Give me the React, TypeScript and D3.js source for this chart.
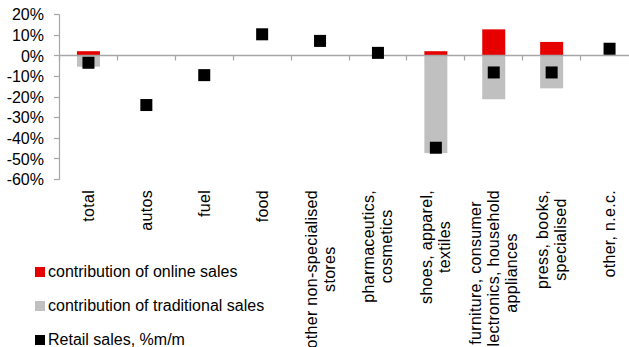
import React from 'react';
import * as d3 from 'd3';

const categories = [
  'total', 'autos', 'fuel', 'food', 'other non-specialised stores',
  'pharmaceutics, cosmetics', 'shoes, apparel, textiles',
  'furniture, consumer electronics, household appliances',
  'press, books, specialised', 'other, n.e.c.',
];
const labelLines = [
  ['total'], ['autos'], ['fuel'], ['food'],
  ['other non-specialised', 'stores'],
  ['pharmaceutics,', 'cosmetics'],
  ['shoes, apparel,', 'textiles'],
  ['furniture, consumer', 'electronics, household', 'appliances'],
  ['press, books,', 'specialised'],
  ['other, n.e.c.'],
];
const onlineSales: (number | null)[] = [2.2, null, null, null, null, null, 2.2, 12.8, 6.7, null];
const traditionalSales: (number | null)[] = [-5.3, null, null, null, null, null, -47.2, -21.1, -15.8, null];
const retailSales = [-3.4, -23.9, -9.4, 10.4, 7.2, 1.4, -44.6, -8.1, -8.1, 3.4];
const yTicks = [20, 10, 0, -10, -20, -30, -40, -50, -60];
const legendLabels = ['contribution of online sales', 'contribution of traditional sales', 'Retail sales, %m/m'];

const W = 629;
const H = 347;
const FONT = '"Liberation Sans", Arial, Helvetica, sans-serif';
const RED = '#e60000';
const GREY = '#c0c0c0';
const AXIS = '#a6a6a6';
const LS = 0.3;

let ctx: CanvasRenderingContext2D | null = null;
function measure(t: string, size: number) {
  if (!ctx) ctx = document.createElement('canvas').getContext('2d');
  if (!ctx) return t.length * size * 0.5;
  ctx.font = `${size}px ${FONT}`;
  return ctx.measureText(t).width + LS * t.length;
}

export default function App() {
  const x = d3.scaleBand<string>().domain(categories).range([59.5, 638.5]).padding(0);
  const y = d3.scaleLinear().domain([-60, 20]).range([179.5, 14.5]);
  const bw = 23;
  const crisp = (v: number) => Math.floor(v) + 0.5;
  const y0 = crisp(y(0));
  const cx = (i: number) => (x(categories[i]) as number) + x.bandwidth() / 2;

  const lineH = 18;
  const labelTop = 190;
  const legendY = [277, 311, 345];
  const legendColors = [RED, GREY, '#000'];

  return (
    <svg width={W} height={H} style={{ position: 'fixed', left: 0, top: 0, background: '#fff' }}
      fontFamily={FONT}>
      {/* bars */}
      {categories.map((c, i) => (
        <g key={'b' + c}>
          {onlineSales[i] != null && (
            <rect x={cx(i) - bw / 2} width={bw} y={y(onlineSales[i] as number)}
              height={y(0) - y(onlineSales[i] as number)} fill={RED} />
          )}
          {traditionalSales[i] != null && (
            <rect x={cx(i) - bw / 2} width={bw} y={y(0)}
              height={y(traditionalSales[i] as number) - y(0)} fill={GREY} />
          )}
        </g>
      ))}
      {/* y axis */}
      <line x1={59.5} x2={59.5} y1={crisp(y(20))} y2={crisp(y(-60))} stroke={AXIS} strokeWidth={1.2} />
      {yTicks.map((t) => (
        <g key={'yt' + t}>
          <line x1={54} x2={59.5} y1={crisp(y(t))} y2={crisp(y(t))} stroke={AXIS} strokeWidth={1.2} />
          <text x={44} y={y(t)} dy="0.36em" textAnchor="end" fontSize={16} fill="#000">{t + '%'}</text>
        </g>
      ))}
      {/* zero line + category ticks */}
      <line x1={59.5} x2={W + 20} y1={y0} y2={y0} stroke={AXIS} strokeWidth={1.6} />
      {categories.map((c) => (
        <line key={'xt' + c} x1={crisp(x(c) as number)} x2={crisp(x(c) as number)} y1={y0} y2={y0 + 5}
          stroke={AXIS} strokeWidth={1.2} />
      ))}
      {/* markers */}
      {retailSales.map((v, i) => (
        <rect key={'m' + i} x={cx(i) - 6} y={y(v) - 6} width={12} height={12} fill="#000" />
      ))}
      {/* category labels */}
      {labelLines.map((lines, i) => {
        const maxW = Math.max(...lines.map((l) => measure(l, 16)));
        const cy = labelTop + maxW / 2;
        const n = lines.length;
        return lines.map((l, j) => {
          const bx = cx(i) - (n * lineH) / 2 + j * lineH + 14.5;
          return (
            <text key={'cl' + i + '-' + j} transform={`translate(${bx},${cy}) rotate(-90)`}
              textAnchor="middle" fontSize={16} letterSpacing={LS} fill="#000">{l}</text>
          );
        });
      })}
      {/* legend */}
      {legendLabels.map((l, i) => (
        <g key={'lg' + i}>
          <rect x={35} y={legendY[i] - 10} width={10} height={10} fill={legendColors[i]} />
          <text x={48} y={legendY[i]} fontSize={16} fill="#000">{l}</text>
        </g>
      ))}
    </svg>
  );
}
